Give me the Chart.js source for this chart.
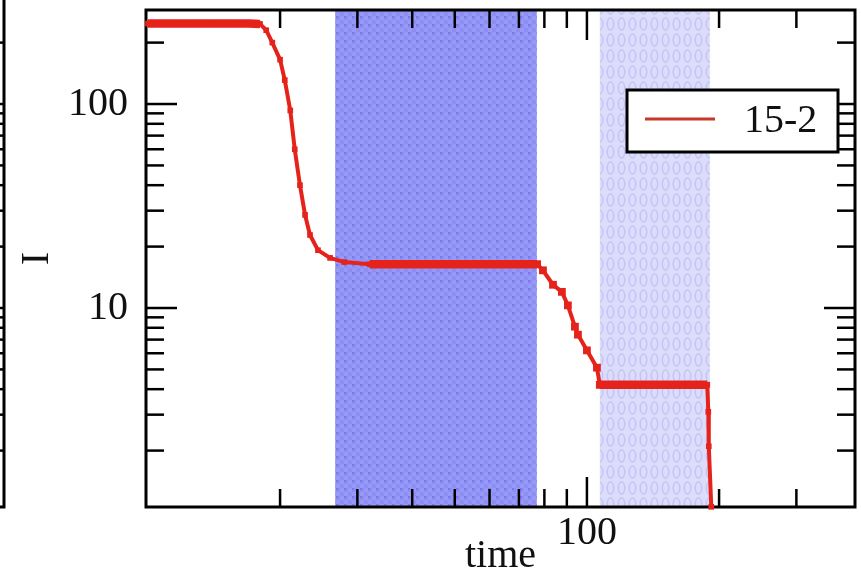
<!DOCTYPE html>
<html><head><meta charset="utf-8">
<script src="https://cdn.jsdelivr.net/npm/chart.js@4.4.0/dist/chart.umd.min.js"></script>
<style>html,body{margin:0;padding:0;background:#fff;}canvas{display:block;}</style>
</head><body>
<canvas id="c" width="861" height="576"></canvas>
<script>
// ---- data ----
const seriesName = '15-2';
const time  = [10, 12, 14, 16, 17, 18, 18.6, 19.2, 20, 20.5, 21.1, 21.6, 22.2, 22.8, 23.4, 24.4, 26, 28, 32, 38, 45, 52, 60, 68, 74, 77, 79.4, 83.7, 87.7, 90.5, 93.9, 95.4, 100, 105.4, 107, 120, 135, 150, 165, 180, 188, 189, 189.5, 192];
const value = [248, 248, 248, 248, 248, 247, 230, 200, 165, 131, 93, 60, 40, 28.6, 22.8, 19.2, 17.6, 16.8, 16.4, 16.4, 16.4, 16.4, 16.4, 16.4, 16.4, 16.4, 15.3, 13.0, 12.0, 10.3, 8.1, 7.4, 6.2, 5.1, 4.2, 4.2, 4.2, 4.2, 4.2, 4.2, 4.2, 3.1, 2.1, 1.06];
const yMajorTicks = [10, 100];
const yMinorTicks = [2, 3, 4, 5, 6, 7, 8, 9, 20, 30, 40, 50, 60, 70, 80, 90, 200];
const xMajorTicks = [100];
const xMinorTicks = [20, 30, 40, 50, 60, 70, 80, 90, 200, 300];
const shadeDense = [26.7, 76.9];
const shadeLight = [107, 190.6];
const xRange = [9.9, 408];
const yRange = [1.058, 289];
const xTitle = 'time';
const yTitle = 'I';

const SERIF = '"Liberation Serif", "DejaVu Serif", serif';
const RED = '#e5231b';

function makeDense() {
  const c = document.createElement('canvas'); c.width = 8; c.height = 8;
  const g = c.getContext('2d');
  g.fillStyle = '#9799f6'; g.fillRect(0, 0, 8, 8);
  g.fillStyle = '#8c8ef3'; g.fillRect(0, 0, 4, 4); g.fillRect(4, 4, 4, 4);
  g.fillStyle = '#7679e9'; g.fillRect(0, 0, 2, 2);
  return c;
}
function makeLight() {
  const c = document.createElement('canvas'); c.width = 11; c.height = 16;
  const g = c.getContext('2d');
  g.fillStyle = '#dcdcfb'; g.fillRect(0, 0, 11, 16);
  g.strokeStyle = '#c4c5f6'; g.lineWidth = 1.6;
  g.beginPath(); g.ellipse(5.5, 8, 3.2, 6, 0, 0, Math.PI * 2); g.stroke();
  return c;
}

const deco = {
  id: 'deco',
  beforeDatasetsDraw(chart) {
    const { ctx, chartArea: a, scales: { x, y } } = chart;
    ctx.save();
    // shaded intervals
    const dense = ctx.createPattern(makeDense(), 'repeat');
    const light = ctx.createPattern(makeLight(), 'repeat');
    let x0 = x.getPixelForValue(shadeDense[0]), x1 = x.getPixelForValue(shadeDense[1]);
    ctx.fillStyle = dense; ctx.fillRect(x0, a.top, x1 - x0, a.bottom - a.top);
    x0 = x.getPixelForValue(shadeLight[0]); x1 = x.getPixelForValue(shadeLight[1]);
    ctx.fillStyle = light; ctx.fillRect(x0, a.top, x1 - x0, a.bottom - a.top);

    // frame
    ctx.strokeStyle = '#000'; ctx.lineWidth = 3; ctx.lineCap = 'butt';
    ctx.strokeRect(a.left, a.top, a.right - a.left, a.bottom - a.top);

    // inward ticks
    ctx.lineWidth = 2.5;
    const tick = (x1_, y1_, x2_, y2_) => { ctx.beginPath(); ctx.moveTo(x1_, y1_); ctx.lineTo(x2_, y2_); ctx.stroke(); };
    const yt = (vals, len) => vals.forEach(v => {
      const p = y.getPixelForValue(v);
      if (p < a.top + 1 || p > a.bottom - 1) return;
      tick(a.left, p, a.left + len, p);
      tick(a.right, p, a.right - len, p);
      // neighbouring panel's axis at the far left
      tick(0, p, 4, p);
    });
    yt(yMinorTicks, 18); yt(yMajorTicks, 31);
    const xt = (vals, len) => vals.forEach(v => {
      const p = x.getPixelForValue(v);
      if (p < a.left + 1 || p > a.right - 1) return;
      tick(p, a.bottom, p, a.bottom - len);
      tick(p, a.top, p, a.top + len);
    });
    xt(xMinorTicks, 18); xt(xMajorTicks, 30);

    // neighbouring panel frame fragment
    ctx.lineWidth = 3;
    ctx.beginPath(); ctx.moveTo(4, 0); ctx.lineTo(4, a.bottom); ctx.lineTo(0, a.bottom); ctx.stroke();
    ctx.restore();
  },
  afterDatasetsDraw(chart) {
    const { ctx } = chart;
    ctx.save();
    // legend box
    ctx.fillStyle = '#fff';
    ctx.fillRect(627, 90, 211, 62);
    ctx.strokeStyle = '#000'; ctx.lineWidth = 3;
    ctx.strokeRect(627, 90, 211, 62);
    ctx.strokeStyle = '#c9372a'; ctx.lineWidth = 3;
    ctx.beginPath(); ctx.moveTo(645, 119); ctx.lineTo(715, 119); ctx.stroke();
    ctx.fillStyle = '#111'; ctx.font = '40px ' + SERIF; ctx.textBaseline = 'alphabetic'; ctx.textAlign = 'left';
    ctx.fillText(chart.data.datasets[0].label, 744, 132);
    ctx.restore();
  }
};

new Chart(document.getElementById('c'), {
  type: 'line',
  data: {
    labels: time,
    datasets: [{
      label: seriesName,
      data: time.map((t, i) => ({ x: t, y: value[i] })),
      borderColor: RED,
      backgroundColor: RED,
      borderWidth: 3,
      pointStyle: 'rect',
      pointRadius: ctx => (ctx.raw && ctx.raw.x > 75 && ctx.raw.x < 110) ? 5.5 : 4,
      pointBorderWidth: 0,
      pointBackgroundColor: RED,
      tension: 0,
      clip: 8,
      segment: {
        borderWidth: ctx => Math.abs(ctx.p0.parsed.y - ctx.p1.parsed.y) < 0.01 * ctx.p0.parsed.y ? 8.5 : 4
      }
    }]
  },
  options: {
    responsive: false,
    animation: false,
    layout: { padding: { left: 0, top: 10, right: 6, bottom: 0 } },
    plugins: { legend: { display: false }, tooltip: { enabled: false } },
    scales: {
      x: {
        type: 'logarithmic', min: xRange[0], max: xRange[1],
        grid: { display: false, drawTicks: false }, border: { display: false },
        afterBuildTicks: s => { s.ticks = xMajorTicks.map(v => ({ value: v })); },
        afterFit: s => { s.height = 69; s.paddingLeft = 0; s.paddingRight = 0; },
        ticks: { color: '#111', font: { family: SERIF, size: 40 }, padding: 2, maxRotation: 0, autoSkip: false,
                 callback: v => String(v) },
        title: { display: true, text: xTitle, color: '#111', font: { family: SERIF, size: 40, lineHeight: 1.1 }, padding: { top: 0, bottom: -2 } }
      },
      y: {
        type: 'logarithmic', min: yRange[0], max: yRange[1],
        grid: { display: false, drawTicks: false }, border: { display: false },
        afterBuildTicks: s => { s.ticks = yMajorTicks.map(v => ({ value: v })); },
        afterFit: s => { s.width = 146; s.paddingTop = 0; s.paddingBottom = 0; },
        ticks: { color: '#111', font: { family: SERIF, size: 40 }, padding: 18, autoSkip: false,
                 callback: v => String(v) },
        title: { display: true, text: yTitle, color: '#111', font: { family: SERIF, size: 40, lineHeight: 1.0 }, padding: { top: 17, bottom: 0 } }
      }
    }
  },
  plugins: [deco]
});
</script>
</body></html>
